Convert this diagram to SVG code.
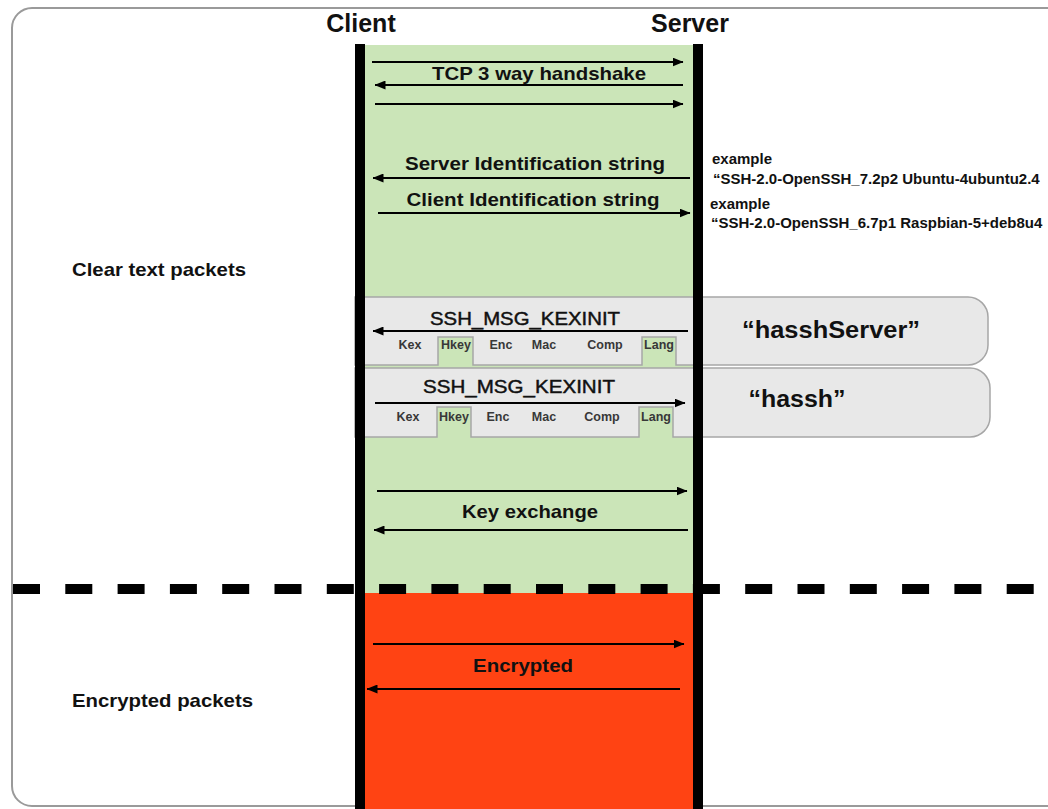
<svg xmlns="http://www.w3.org/2000/svg" width="1048" height="809" viewBox="0 0 1048 809">
  <style>
    .t { font-family: "Liberation Sans", Arial, Helvetica, sans-serif; fill: #111; }
    .head { font-size: 25px; font-weight: bold; }
    .lbl { font-size: 19px; font-weight: bold; }
    .msg { font-size: 19px; stroke: #111; stroke-width: 0.45; }
    .fld { font-size: 12.5px; font-weight: bold; fill: #383838; }
    .hash { font-size: 23px; font-weight: bold; }
    .ex { font-size: 15px; font-weight: bold; }
    .arrow { stroke: #000; stroke-width: 2; fill: none; marker-end: url(#head); }
    .band { fill: #e8e8e8; stroke: #a6a6a6; stroke-width: 1.5; }
  </style>
  <defs>
    <marker id="head" markerUnits="userSpaceOnUse" markerWidth="11" markerHeight="9" refX="10.5" refY="4.5" orient="auto">
      <path d="M0,0 L11,4.5 L0,9 Z" fill="#000"/>
    </marker>
  </defs>

  <rect width="1048" height="809" fill="#fff"/>

  <!-- outer frame -->
  <rect x="12" y="8" width="1070" height="798" rx="20" fill="none" stroke="#9a9a9a" stroke-width="2"/>

  <!-- channel fills: clear text (green) and encrypted (red) -->
  <rect x="365" y="45" width="328" height="548" fill="#cbe5b8"/>
  <rect x="365" y="593" width="328" height="216" fill="#ff4313"/>

  <!-- KEXINIT bands with field tabs -->
  <g id="kexinit-server">
    <path class="band" d="M355,297 H968 A20,20 0 0 1 988,317 V345 A20,20 0 0 1 968,365 H676 V337 H642 V365 H473 V337 H438 V365 H355 Z"/>
    <rect x="439" y="338" width="33" height="28" fill="#cbe5b8"/>
    <rect x="643" y="338" width="32" height="28" fill="#cbe5b8"/>
  </g>
  <g id="kexinit-client">
    <path class="band" d="M355,368 H970 A20,20 0 0 1 990,388 V417 A20,20 0 0 1 970,437 H673 V407 H639 V437 H471 V407 H437 V437 H355 Z"/>
    <rect x="438" y="408" width="32" height="29" fill="#cbe5b8"/>
    <rect x="640" y="408" width="32" height="29" fill="#cbe5b8"/>
  </g>

  <!-- boundary between clear text and encrypted traffic -->
  <line x1="13" y1="589" x2="1048" y2="589" stroke="#000" stroke-width="10" stroke-dasharray="27 25.3"/>

  <!-- lifelines -->
  <g id="client">
    <rect x="355" y="44" width="10" height="765" fill="#000"/>
    <text class="t head" x="361" y="32" text-anchor="middle">Client</text>
  </g>
  <g id="server">
    <rect x="693" y="44" width="10" height="765" fill="#000"/>
    <text class="t head" x="690" y="32" text-anchor="middle">Server</text>
  </g>

  <!-- messages -->
  <g id="connectors">
    <path class="arrow" d="M372,62 H683"/>
    <path class="arrow" d="M683,85 H375"/>
    <path class="arrow" d="M375,104 H683"/>
    <path class="arrow" d="M690,178 H373"/>
    <path class="arrow" d="M378,213 H690"/>
    <path class="arrow" d="M688,331 H373"/>
    <path class="arrow" d="M375,403 H685"/>
    <path class="arrow" d="M377,491 H687"/>
    <path class="arrow" d="M688,530 H374"/>
    <path class="arrow" d="M373,644 H684"/>
    <path class="arrow" d="M680,689 H367"/>
  </g>

  <g id="labels">
    <text class="t lbl" x="539" y="80" text-anchor="middle" textLength="214" lengthAdjust="spacingAndGlyphs">TCP 3 way handshake</text>
    <text class="t lbl" x="535" y="170" text-anchor="middle" textLength="260" lengthAdjust="spacingAndGlyphs">Server Identification string</text>
    <text class="t lbl" x="533" y="206" text-anchor="middle" textLength="253" lengthAdjust="spacingAndGlyphs">Client Identification string</text>
    <text class="t lbl" x="530" y="518" text-anchor="middle" textLength="136" lengthAdjust="spacingAndGlyphs">Key exchange</text>
    <text class="t lbl" x="523" y="672" text-anchor="middle" textLength="100" lengthAdjust="spacingAndGlyphs" fill="#1a0800">Encrypted</text>
  </g>

  <g id="section-clear">
    <text class="t lbl" x="72" y="276" textLength="174" lengthAdjust="spacingAndGlyphs">Clear text packets</text>
  </g>
  <g id="section-encrypted">
    <text class="t lbl" x="72" y="707" textLength="181" lengthAdjust="spacingAndGlyphs">Encrypted packets</text>
  </g>

  <g id="server-example">
    <text class="t ex" x="712" y="164">example</text>
    <text class="t ex" x="713" y="184">“SSH-2.0-OpenSSH_7.2p2 Ubuntu-4ubuntu2.4</text>
  </g>
  <g id="client-example">
    <text class="t ex" x="710" y="209">example</text>
    <text class="t ex" x="711" y="228">“SSH-2.0-OpenSSH_6.7p1 Raspbian-5+deb8u4</text>
  </g>

  <g id="kexinit-server-text">
    <text class="t msg" x="525" y="325" text-anchor="middle" textLength="190" lengthAdjust="spacingAndGlyphs">SSH_MSG_KEXINIT</text>
    <text class="t fld" x="410" y="349" text-anchor="middle">Kex</text>
    <text class="t fld" x="456" y="349" text-anchor="middle">Hkey</text>
    <text class="t fld" x="501" y="349" text-anchor="middle">Enc</text>
    <text class="t fld" x="544" y="349" text-anchor="middle">Mac</text>
    <text class="t fld" x="605" y="349" text-anchor="middle">Comp</text>
    <text class="t fld" x="659" y="349" text-anchor="middle">Lang</text>
    <text class="t hash" x="831" y="338" text-anchor="middle" textLength="178" lengthAdjust="spacingAndGlyphs">“hasshServer”</text>
  </g>
  <g id="kexinit-client-text">
    <text class="t msg" x="519" y="393" text-anchor="middle" textLength="192" lengthAdjust="spacingAndGlyphs">SSH_MSG_KEXINIT</text>
    <text class="t fld" x="408" y="421" text-anchor="middle">Kex</text>
    <text class="t fld" x="454" y="421" text-anchor="middle">Hkey</text>
    <text class="t fld" x="498" y="421" text-anchor="middle">Enc</text>
    <text class="t fld" x="544" y="421" text-anchor="middle">Mac</text>
    <text class="t fld" x="602" y="421" text-anchor="middle">Comp</text>
    <text class="t fld" x="656" y="421" text-anchor="middle">Lang</text>
    <text class="t hash" x="797" y="407" text-anchor="middle" textLength="97" lengthAdjust="spacingAndGlyphs">“hassh”</text>
  </g>
</svg>
